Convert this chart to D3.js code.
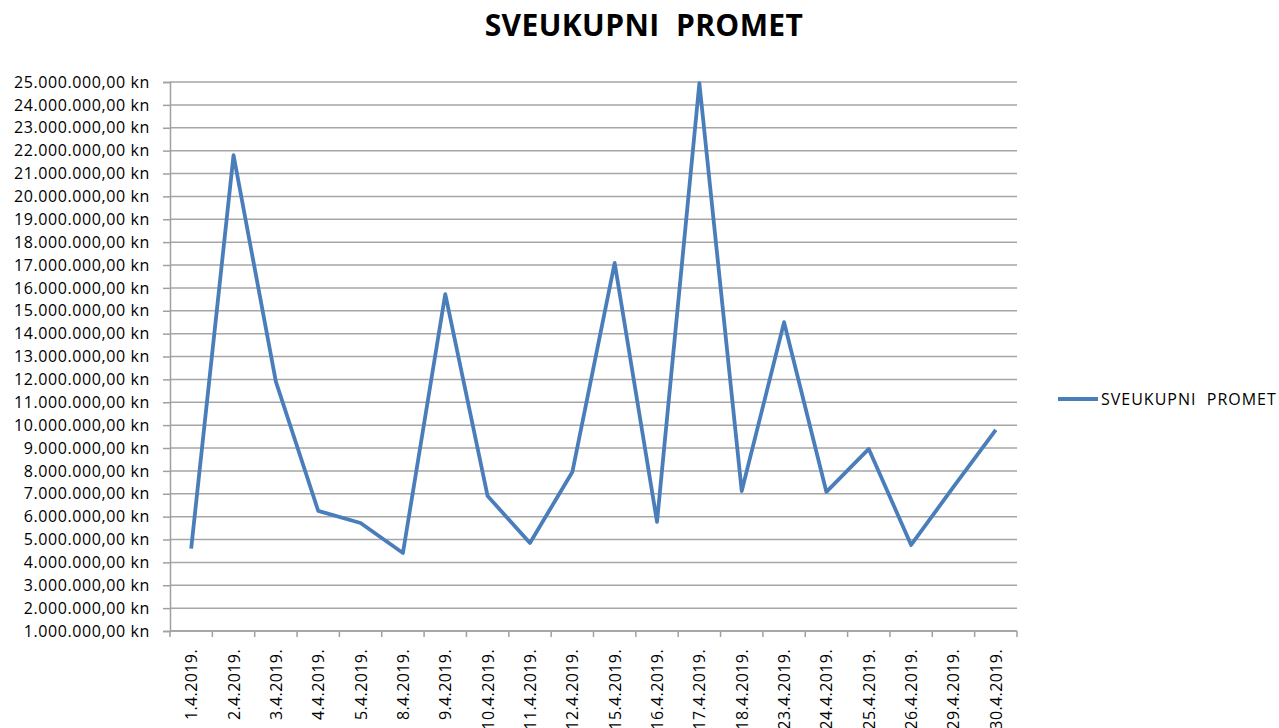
<!DOCTYPE html>
<html>
<head>
<meta charset="utf-8">
<script src="https://cdn.jsdelivr.net/npm/d3@7"></script>
<style>
  body { margin: 0; background: #fff; }
  text { font-family: "Open Sans", "Liberation Sans", sans-serif; fill: #000; white-space: pre; }
</style>
</head>
<body>
<div id="root"></div>
<script>
const width = 1279;
const height = 728;

// Data

const dates = [
  '1.4.2019.', '2.4.2019.', '3.4.2019.', '4.4.2019.', '5.4.2019.',
  '8.4.2019.', '9.4.2019.', '10.4.2019.', '11.4.2019.', '12.4.2019.',
  '15.4.2019.', '16.4.2019.', '17.4.2019.', '18.4.2019.', '23.4.2019.',
  '24.4.2019.', '25.4.2019.', '26.4.2019.', '29.4.2019.', '30.4.2019.',
];

const promet = [
  4600000, 21800000, 11900000, 6250000, 5720000,
  4410000, 15730000, 6900000, 4850000, 7950000,
  17090000, 5770000, 24950000, 7120000, 14500000,
  7080000, 8960000, 4760000, 7300000, 9790000,
];

const seriesName = 'SVEUKUPNI  PROMET';
const yTicks = d3.range(1000000, 25000001, 1000000);

// Layout

const margin = { top: 82, right: 262, bottom: 97, left: 170 };
const innerW = width - margin.left - margin.right;
const innerH = height - margin.top - margin.bottom;

const svg = d3
  .select('#root')
  .append('svg')
  .attr('width', width)
  .attr('height', height);

const g = svg
  .append('g')
  .attr('transform', `translate(${margin.left},${margin.top})`);

const x = d3.scaleBand().domain(dates).range([0, innerW]);
const y = d3.scaleLinear().domain([1000000, 25000000]).range([innerH, 0]);

const fmt = (v) =>
  d3.format(',.2f')(v).replace(/,/g, '#').replace('.', ',').replace(/#/g, '.') + ' kn';

// Title

svg
  .append('text')
  .attr('x', 644)
  .attr('y', 36)
  .attr('text-anchor', 'middle')
  .style('font-size', '30px')
  .style('font-weight', 'bold')
  .style('letter-spacing', '0.4px')
  .text(seriesName);

// Gridlines

g.append('g')
  .selectAll('line')
  .data(yTicks)
  .join('line')
  .attr('x1', 0)
  .attr('x2', innerW)
  .attr('y1', (d) => y(d))
  .attr('y2', (d) => y(d))
  .attr('stroke', '#a6a6a6')
  .attr('stroke-width', 1.5);

// Y axis

const yAxis = g
  .append('g')
  .call(d3.axisLeft(y).tickValues(yTicks).tickSize(7).tickPadding(13).tickFormat(fmt));

yAxis.select('.domain').attr('stroke', '#a0a0a0').attr('stroke-width', 1.5);
yAxis.selectAll('.tick line').attr('stroke', '#a0a0a0').attr('stroke-width', 1.5);
yAxis
  .selectAll('text')
  .style('font-size', '16px')
  .style('letter-spacing', '0.6px')
  .attr('fill', '#000');

// X axis

const xAxisG = g.append('g').attr('transform', `translate(0,${innerH})`);

xAxisG
  .append('line')
  .attr('x1', 0)
  .attr('x2', innerW)
  .attr('stroke', '#a0a0a0')
  .attr('stroke-width', 1.5);

xAxisG
  .selectAll('line.tk')
  .data(dates.concat(['end']))
  .join('line')
  .attr('class', 'tk')
  .attr('x1', (d, i) => i * x.bandwidth())
  .attr('x2', (d, i) => i * x.bandwidth())
  .attr('y1', 0)
  .attr('y2', 6)
  .attr('stroke', '#a0a0a0')
  .attr('stroke-width', 1.5);

xAxisG
  .selectAll('text')
  .data(dates)
  .join('text')
  .attr(
    'transform',
    (d) => `translate(${x(d) + x.bandwidth() / 2 + 6},18) rotate(-90)`
  )
  .attr('text-anchor', 'end')
  .style('font-size', '16px')
  .style('letter-spacing', '0.4px')
  .text((d) => d);

// Line

const line = d3
  .line()
  .x((d, i) => x(dates[i]) + x.bandwidth() / 2)
  .y((d) => y(d));

g.append('path')
  .datum(promet)
  .attr('fill', 'none')
  .attr('stroke', '#4a7ebb')
  .attr('stroke-width', 3.8)
  .attr('stroke-linejoin', 'round')
  .attr('d', line);

// Legend

const legend = svg.append('g').attr('transform', 'translate(1058,399)');

legend
  .append('line')
  .attr('x1', 0)
  .attr('x2', 40)
  .attr('stroke', '#4a7ebb')
  .attr('stroke-width', 3.8);

legend
  .append('text')
  .attr('x', 43)
  .attr('y', 6)
  .style('font-size', '16px')
  .style('letter-spacing', '1px')
  .text(seriesName);
</script>
</body>
</html>
